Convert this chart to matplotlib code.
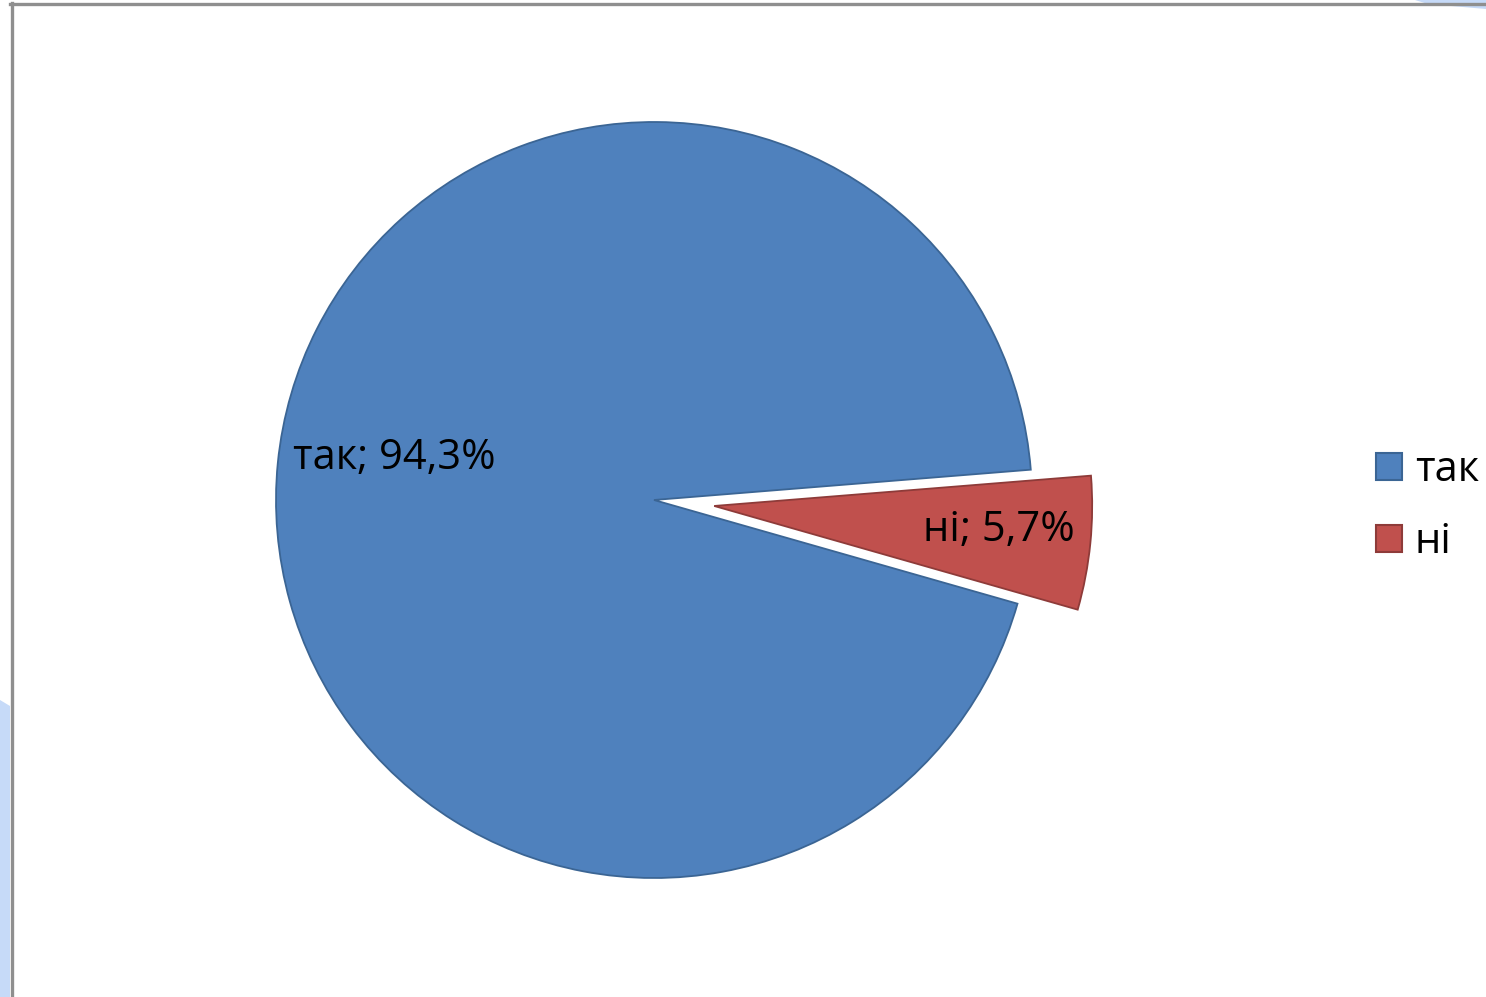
import matplotlib
matplotlib.use("Agg")
import matplotlib.pyplot as plt
from matplotlib.patches import Polygon, Patch
from matplotlib.lines import Line2D

categorias = ["так", "ні"]
valores = [94.3, 5.7]
colores = ["#4F81BD", "#C0504D"]
bordes = ["#3B6594", "#8E3B39"]

W, H = 1486, 997
cx, cy, r = 654, 500, 378  # centro y radio del pastel en pixeles

fig = plt.figure(figsize=(W / 100, H / 100), dpi=100)
fig.patch.set_facecolor("white")

# fondo de la pagina (formas azul claro en los bordes)
fig.patches.append(Polygon([[1415 / W, 1], [1 , 1], [1, 1 - 9 / H], [1428 / W, 1 - 4 / H]],
                           closed=True, transform=fig.transFigure, facecolor="#C6DAF8",
                           edgecolor="none", zorder=0))
fig.patches.append(Polygon([[0, 1 - 700 / H], [10 / W, 1 - 706 / H], [10 / W, 0], [0, 0]],
                           closed=True, transform=fig.transFigure, facecolor="#C6DAF8",
                           edgecolor="none", zorder=0))
# marco gris
fig.lines.append(Line2D([11.5 / W, 11.5 / W], [0, 1 - 3 / H], transform=fig.transFigure,
                        color="#8F8F8F", linewidth=2.4))
fig.lines.append(Line2D([10 / W, 1], [1 - 4.5 / H, 1 - 4.5 / H], transform=fig.transFigure,
                        color="#8F8F8F", linewidth=2.4))

ax = fig.add_axes([0, 0, 1, 1])
ax.axis("off")

inicio = 4.6
wedges, _ = ax.pie(valores, colors=colores, startangle=inicio, explode=[0, 0.16],
                   radius=1, counterclock=True,
                   wedgeprops=dict(linewidth=1.3))
for w, b in zip(wedges, bordes):
    w.set_edgecolor(b)
ax.set_aspect("auto")
ax.set_xlim(-cx / r, (W - cx) / r)
ax.set_ylim(-(H - cy) / r, cy / r)

fuente = "Open Sans"
etiquetas = [f"{c}; {v:.1f}%".replace(".", ",") for c, v in zip(categorias, valores)]
ax.text((293 - cx) / r, (cy - 458) / r, etiquetas[0], ha="left", va="center",
        fontsize=30, family=fuente, color="black")
ax.text((1075 - cx) / r, (cy - 530) / r, etiquetas[1], ha="right", va="center",
        fontsize=30, family=fuente, color="black")

handles = [Patch(facecolor=c, edgecolor=b, linewidth=1.5) for c, b in zip(colores, bordes)]
leg = fig.legend(handles, categorias, loc="center left", bbox_to_anchor=(1376 / W, 1 - 506 / H),
                 frameon=False, prop={"family": fuente, "size": 30},
                 handlelength=0.62, handleheight=0.62, handletextpad=0.31, labelspacing=0.72,
                 borderaxespad=0, borderpad=0)

fig.savefig("out.png", dpi=100)
